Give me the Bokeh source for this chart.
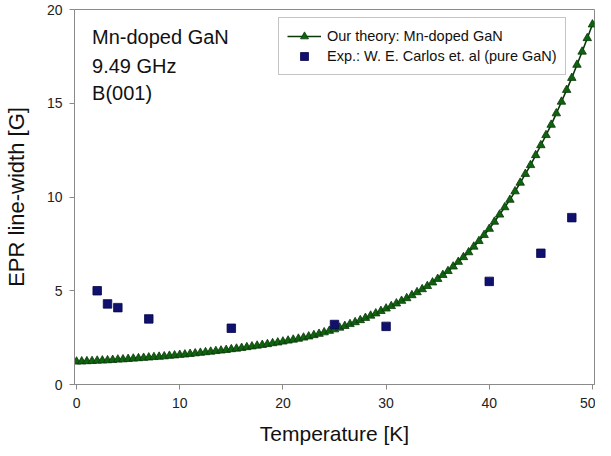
from bokeh.plotting import figure
from bokeh.models import Label, Range1d, FixedTicker
from bokeh.embed import file_html
from bokeh.resources import INLINE

# Theory curve: Mn-doped GaN (read at every 0.5 K)
theory_T = [i * 0.5 for i in range(101)]
theory_w = [1.22, 1.23, 1.24, 1.25, 1.27, 1.28, 1.29, 1.31, 1.33, 1.34,
            1.36, 1.38, 1.40, 1.42, 1.44, 1.46, 1.48, 1.50, 1.53, 1.55,
            1.58, 1.60, 1.63, 1.66, 1.69, 1.72, 1.75, 1.78, 1.81, 1.84,
            1.88, 1.91, 1.95, 1.99, 2.03, 2.07, 2.11, 2.15, 2.20, 2.24,
            2.29, 2.34, 2.39, 2.44, 2.50, 2.56, 2.63, 2.70, 2.78, 2.86,
            2.94, 3.03, 3.12, 3.22, 3.32, 3.43, 3.55, 3.67, 3.79, 3.92,
            4.05, 4.18, 4.32, 4.46, 4.60, 4.76, 4.92, 5.08, 5.25, 5.44,
            5.63, 5.84, 6.05, 6.29, 6.54, 6.79, 7.05, 7.35, 7.65, 7.97,
            8.30, 8.68, 9.06, 9.45, 9.85, 10.30, 10.76, 11.23, 11.70, 12.23,
            12.76, 13.30, 13.85, 14.46, 15.08, 15.71, 16.35, 17.05, 17.75, 18.47,
            19.20]

# Experiment: W. E. Carlos et al. (pure GaN)
exp_T = [2, 3, 4, 7, 15, 25, 30, 40, 45, 48]
exp_w = [5.0, 4.3, 4.1, 3.5, 3.0, 3.2, 3.1, 5.5, 7.0, 8.9]

x_ticks = [0, 10, 20, 30, 40, 50]
y_ticks = [0, 5, 10, 15, 20]

notes = ["Mn-doped GaN", "9.49 GHz", "B(001)"]
note_y = [18.55, 17.0, 15.55]

FONT = "Liberation Sans"

p = figure(width=595, height=447, output_backend="svg", toolbar_location=None,
           x_range=Range1d(-0.2, 50.2), y_range=Range1d(0, 20),
           min_border_left=65, min_border_right=1, min_border_top=9, min_border_bottom=10)

p.grid.visible = False
p.outline_line_color = "#8a8a8a"
p.outline_line_width = 1
p.background_fill_color = "white"
p.border_fill_color = "white"

for ax in (p.xaxis, p.yaxis):
    ax.axis_line_color = "#8a8a8a"
    ax.major_tick_line_color = "#8a8a8a"
    ax.minor_tick_line_color = None
    ax.major_tick_in = 0
    ax.major_tick_out = 5
    ax.major_label_text_font = FONT
    ax.major_label_text_font_size = "14px"
    ax.major_label_text_color = "#222222"
    ax.axis_label_text_font = FONT
    ax.axis_label_text_font_style = "normal"
    ax.axis_label_text_color = "#111111"

p.xaxis.ticker = FixedTicker(ticks=x_ticks)
p.yaxis.ticker = FixedTicker(ticks=y_ticks)
p.xaxis.major_label_standoff = 8
p.yaxis.major_label_standoff = 7
p.xaxis.axis_label = "Temperature [K]"
p.yaxis.axis_label = "EPR line-width [G]"
p.xaxis.axis_label_text_font_size = "21px"
p.yaxis.axis_label_text_font_size = "22px"
p.xaxis.axis_label_standoff = 11
p.yaxis.axis_label_standoff = 15

p.line(theory_T, theory_w, line_color="#0a380a", line_width=1.6,
       legend_label="Our theory: Mn-doped GaN")
p.scatter(theory_T, theory_w, marker="triangle", size=8.5,
          fill_color="#0f630f", line_color="#0a380a", line_width=0.8,
          legend_label="Our theory: Mn-doped GaN")
p.scatter(exp_T, exp_w, marker="square", size=8.5,
          fill_color="#10106e", line_color="#08084a", line_width=0.8,
          legend_label="Exp.: W. E. Carlos et. al (pure GaN)")

for t, yy in zip(notes, note_y):
    p.add_layout(Label(x=1.5, y=yy, text=t, text_font=FONT, text_font_size="20px",
                       text_color="#111111", text_baseline="alphabetic"))

lg = p.legend[0]
lg.location = (204, 309)
lg.border_line_color = "#8a8a8a"
lg.border_line_width = 1
lg.background_fill_color = "white"
lg.background_fill_alpha = 1
lg.label_text_font = FONT
lg.label_text_font_size = "14.5px"
lg.label_text_color = "#111111"
lg.glyph_width = 34
lg.glyph_height = 20
lg.label_height = 20
lg.label_standoff = 6
lg.spacing = 0
lg.padding = 8
lg.margin = 0

open("out.html", "w").write(file_html(p, INLINE))
